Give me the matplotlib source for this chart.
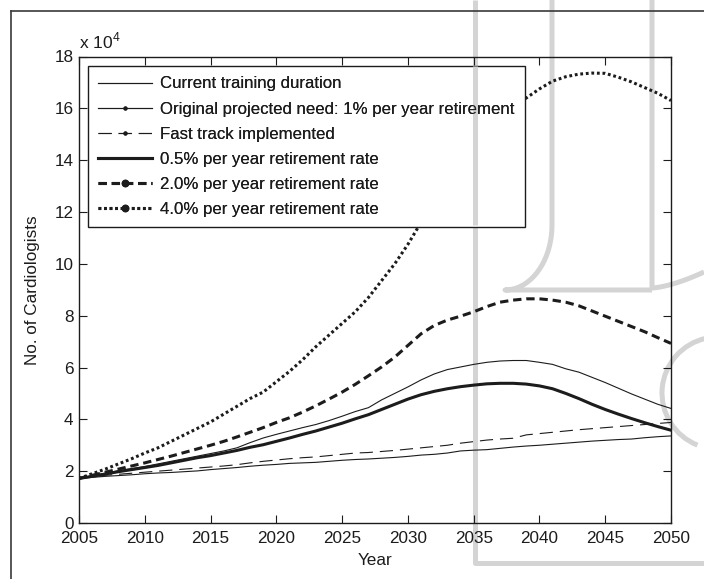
import matplotlib
matplotlib.use("Agg")
import matplotlib.pyplot as plt
from matplotlib.lines import Line2D
from matplotlib.patches import Arc
import numpy as np

plt.rcParams['font.family'] = ['Liberation Sans', 'DejaVu Sans']
plt.rcParams['mathtext.fontset'] = 'custom'
plt.rcParams['mathtext.rm'] = 'Liberation Sans'
plt.rcParams['lines.scale_dashes'] = False

years = np.arange(2005, 2051)

# number of cardiologists, units of 1e4
current_training = [1.72, 1.76, 1.80, 1.83, 1.86, 1.90, 1.93, 1.95, 1.98, 2.01,
                    2.06, 2.10, 2.14, 2.19, 2.23, 2.26, 2.30, 2.32, 2.34, 2.38,
                    2.42, 2.45, 2.47, 2.50, 2.53, 2.57, 2.62, 2.65, 2.70, 2.78,
                    2.81, 2.83, 2.88, 2.93, 2.97, 3.00, 3.04, 3.08, 3.12, 3.16,
                    3.19, 3.22, 3.24, 3.29, 3.33, 3.36]
original_need = [1.72, 1.82, 1.92, 2.02, 2.10, 2.18, 2.28, 2.38, 2.48, 2.58,
                 2.68, 2.78, 2.90, 3.10, 3.28, 3.42, 3.55, 3.68, 3.80, 3.95,
                 4.12, 4.30, 4.45, 4.75, 5.00, 5.25, 5.52, 5.75, 5.92, 6.02,
                 6.12, 6.20, 6.25, 6.27, 6.27, 6.20, 6.12, 5.95, 5.82, 5.62,
                 5.42, 5.20, 4.98, 4.78, 4.58, 4.42]
fast_track = [1.72, 1.78, 1.84, 1.88, 1.92, 1.96, 2.00, 2.04, 2.08, 2.12,
              2.16, 2.20, 2.25, 2.32, 2.38, 2.43, 2.48, 2.52, 2.55, 2.60,
              2.65, 2.70, 2.72, 2.76, 2.80, 2.85, 2.90, 2.95, 3.00, 3.08,
              3.14, 3.20, 3.24, 3.27, 3.40, 3.45, 3.50, 3.55, 3.60, 3.64,
              3.68, 3.72, 3.76, 3.80, 3.84, 3.88]
retire_05 = [1.72, 1.80, 1.89, 1.98, 2.06, 2.14, 2.22, 2.32, 2.42, 2.52,
             2.60, 2.70, 2.80, 2.92, 3.02, 3.15, 3.28, 3.42, 3.55, 3.70,
             3.85, 4.02, 4.18, 4.38, 4.58, 4.78, 4.95, 5.08, 5.18, 5.26,
             5.32, 5.37, 5.39, 5.39, 5.36, 5.29, 5.18, 5.00, 4.80, 4.58,
             4.38, 4.20, 4.03, 3.87, 3.72, 3.58]
retire_20 = [1.72, 1.84, 1.96, 2.08, 2.20, 2.32, 2.45, 2.58, 2.72, 2.86,
             3.00, 3.15, 3.32, 3.50, 3.68, 3.88, 4.06, 4.28, 4.52, 4.78,
             5.05, 5.35, 5.68, 6.02, 6.40, 6.85, 7.30, 7.62, 7.83, 7.98,
             8.15, 8.35, 8.52, 8.60, 8.65, 8.65, 8.60, 8.52, 8.38, 8.18,
             7.98, 7.78, 7.58, 7.38, 7.15, 6.93]
retire_40 = [1.72, 1.90, 2.08, 2.28, 2.48, 2.70, 2.90, 3.15, 3.40, 3.65,
             3.90, 4.20, 4.50, 4.80, 5.05, 5.45, 5.85, 6.30, 6.80, 7.25,
             7.70, 8.15, 8.70, 9.35, 10.00, 10.75, 11.60, 12.40, 13.10, 13.80,
             14.45, 15.00, 15.50, 15.95, 16.40, 16.75, 17.05, 17.22, 17.32, 17.36,
             17.35, 17.20, 17.02, 16.80, 16.58, 16.30]

labels = ['Current training duration',
          'Original projected need: 1% per year retirement',
          'Fast track implemented',
          '0.5% per year retirement rate',
          '2.0% per year retirement rate',
          '4.0% per year retirement rate']

ink = '#1c1c1c'
W, H = 704, 579

fig = plt.figure(figsize=(W / 100, H / 100), dpi=100)


def px(x, y):
    return x / W, 1 - y / H


# light grey logo shapes behind the plot
wm = dict(color='#d4d4d4', lw=3.6, zorder=-1, solid_capstyle='butt')
def wm_line(xs, ys):
    pts = [px(x, y) for x, y in zip(xs, ys)]
    fig.add_artist(Line2D([p[0] for p in pts], [p[1] for p in pts],
                          transform=fig.transFigure, **wm))

wm_line([475, 475, 704], [0, 563, 563])
t = np.linspace(0, np.pi / 2, 20)
wm_line([552] + list(552 - 47 * (1 - np.cos(t))) + [652],
        [0] + list(225 + 65 * np.sin(t)) + [290])
t2 = np.linspace(0, 1, 15)
wm_line([652, 652] + list(652 + 52 * t2), [0, 280] + list(288 - 16 * t2 ** 1.5))
fig.add_artist(Arc(px(718, 393), 112 / W, 112 / H, theta1=100, theta2=252,
                   transform=fig.transFigure, color='#d4d4d4', lw=3.6, zorder=-1))

# outer frame
fig.add_artist(Line2D([px(11, 0)[0], 1.0], [px(0, 11)[1]] * 2,
                      transform=fig.transFigure, color='#3a3a3a', lw=1.2))
fig.add_artist(Line2D([px(11, 0)[0]] * 2, [px(0, 11)[1], 0.0],
                      transform=fig.transFigure, color='#3a3a3a', lw=1.2))

ax = fig.add_axes([79 / W, 1 - 523 / H, 592 / W, 466.5 / H])
ax.set_facecolor('none')

thin = 0.8
thick = 2.2
ax.plot(years, current_training, color=ink, lw=thin)
ax.plot(years, original_need, color=ink, lw=thin)
ax.plot(years, fast_track, color=ink, lw=thin, dashes=(9.5, 5))
ax.plot(years, retire_05, color=ink, lw=thick)
ax.plot(years, retire_20, color=ink, lw=thick, dashes=(6, 3.5))
ax.plot(years, retire_40, color=ink, lw=thick, dashes=(2, 2))

ax.set_xlim(2005, 2050)
ax.set_ylim(0, 18)
ax.set_xticks(np.arange(2005, 2051, 5))
ax.set_yticks(np.arange(0, 19, 2))
ax.tick_params(direction='in', top=True, right=True, length=6, width=0.8,
               labelsize=12.3, colors=ink, pad=4)
ax.tick_params(axis='x', pad=6)
for s in ax.spines.values():
    s.set_linewidth(1.0)
    s.set_color(ink)

ax.set_xlabel('Year', fontsize=12.3, color=ink, labelpad=5)
ax.set_ylabel('No. of Cardiologists', fontsize=12.3, color=ink, labelpad=10)
ax.text(0.0, 1.012, r'x 10$^{4}$', transform=ax.transAxes, fontsize=12.5,
        color=ink, ha='left', va='bottom')

handles = [
    Line2D([], [], color=ink, lw=thin),
    Line2D([], [], color=ink, lw=thin, marker='.', markersize=4),
    Line2D([], [], color=ink, lw=thin, marker='.', markersize=4, dashes=(9.5, 5)),
    Line2D([], [], color=ink, lw=thick),
    Line2D([], [], color=ink, lw=thick, marker='.', markersize=9, dashes=(6, 3.5)),
    Line2D([], [], color=ink, lw=thick, marker='.', markersize=9, dashes=(2, 2)),
]
leg_kw = dict(loc='upper left', bbox_to_anchor=(9 / 592, 1 - 9.5 / 466.5),
              borderaxespad=0, fontsize=12.1, handlelength=3.2, handletextpad=0.48,
              labelspacing=0.6, borderpad=0.62, numpoints=1, fancybox=False,
              labelcolor=ink)
leg = ax.legend(handles, labels, frameon=True, framealpha=1, edgecolor=ink, **leg_kw)
leg.get_frame().set_linewidth(1.0)
ax.add_artist(leg)

# grey bar that runs through the legend box, then the legend contents again on top
ax.add_artist(Line2D([px(475, 0)[0]] * 2, [px(0, 66)[1], px(0, 225)[1]],
                     transform=fig.transFigure, color='#d4d4d4', lw=3.6,
                     solid_capstyle='butt', zorder=5.5))
leg2 = ax.legend(handles, labels, frameon=False, **leg_kw)
leg2.set_zorder(6)

fig.savefig('out.png', dpi=100)
